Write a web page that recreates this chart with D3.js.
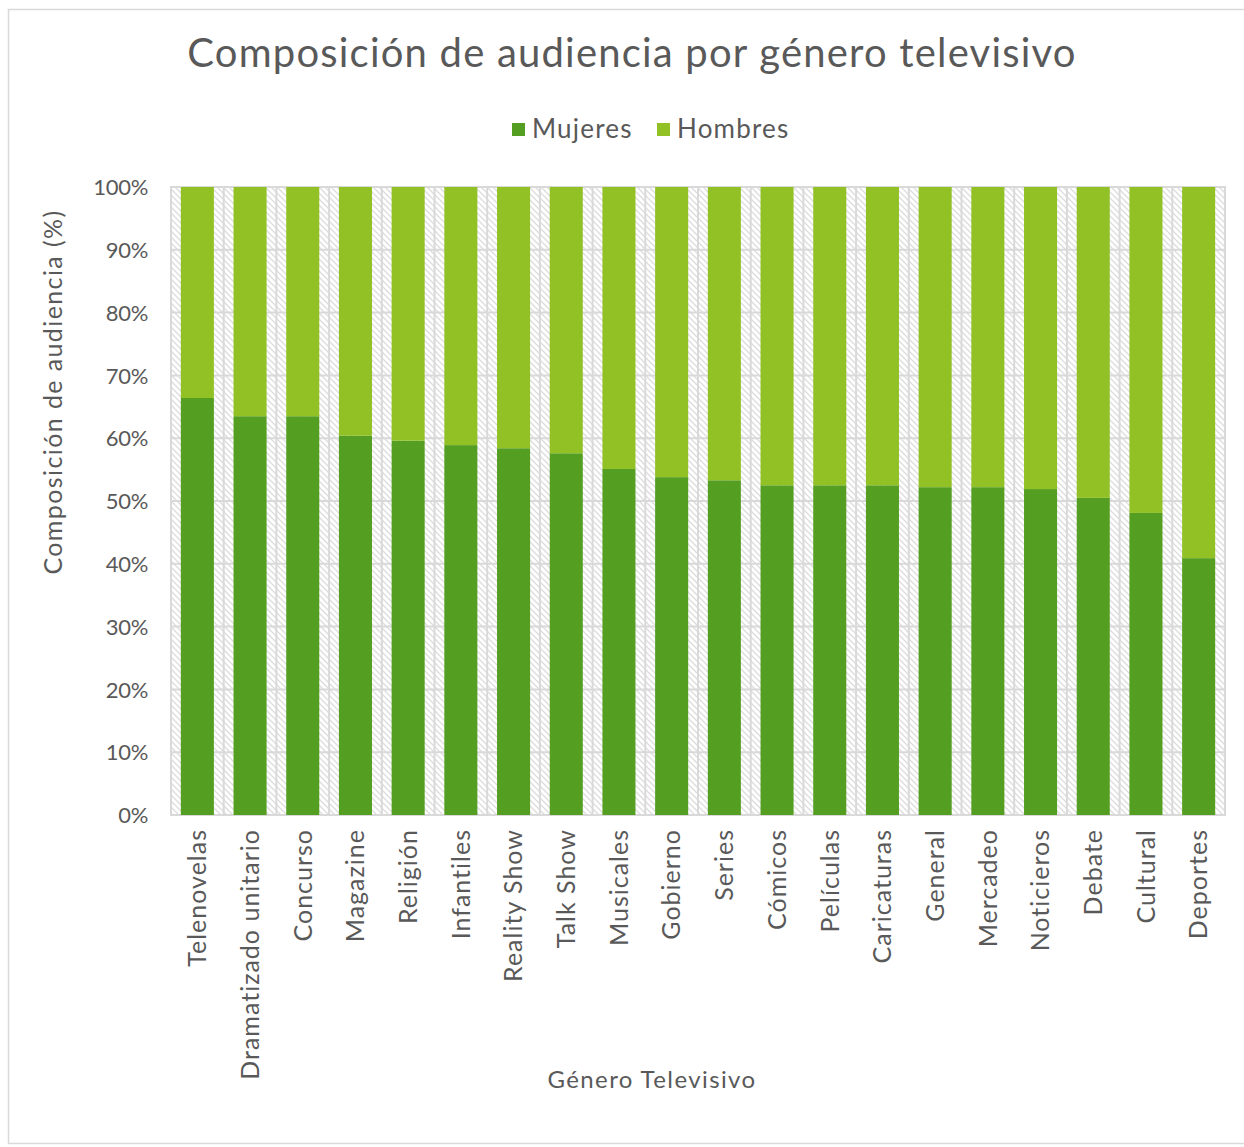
<!DOCTYPE html>
<html>
<head>
<meta charset="utf-8">
<script src="https://cdn.jsdelivr.net/npm/d3@7"></script>
<style>
  body { margin: 0; background: #fff; }
  svg text { font-family: Lato, "Open Sans", sans-serif; fill: #595959; }
</style>
</head>
<body>
<svg id="chart" width="1244" height="1147"></svg>
<script>
var categories = ['Telenovelas', 'Dramatizado unitario', 'Concurso', 'Magazine', 'Religión', 'Infantiles',
  'Reality Show', 'Talk Show', 'Musicales', 'Gobierno', 'Series', 'Cómicos', 'Películas', 'Caricaturas',
  'General', 'Mercadeo', 'Noticieros', 'Debate', 'Cultural', 'Deportes'];
var mujeres = [66.4, 63.5, 63.5, 60.4, 59.6, 58.9, 58.4, 57.6, 55.1, 53.8, 53.3, 52.5, 52.5, 52.5, 52.2, 52.2, 51.9, 50.5, 48.1, 40.9];
var hombres = [33.6, 36.5, 36.5, 39.6, 40.4, 41.1, 41.6, 42.4, 44.9, 46.2, 46.7, 47.5, 47.5, 47.5, 47.8, 47.8, 48.1, 49.5, 51.9, 59.1];
var seriesNames = ['Mujeres', 'Hombres'];
var yTicks = [0, 10, 20, 30, 40, 50, 60, 70, 80, 90, 100];

(function() {
  var svg = d3.select('#chart');
  var colors = { Mujeres: '#549e21', Hombres: '#92c126' };
  var grid = '#d9d9d9';

  var left = 171, right = 1225, top = 187, bottom = 815;

  // outer chart border
  svg.append('rect')
    .attr('x', 8.5).attr('y', 9.5)
    .attr('width', 1240).attr('height', 1134)
    .attr('fill', '#fff')
    .attr('stroke', grid).attr('stroke-width', 1.5);

  // hatch pattern for plot background
  var defs = svg.append('defs');
  var pat = defs.append('pattern')
    .attr('id', 'hatch')
    .attr('patternUnits', 'userSpaceOnUse')
    .attr('width', 6).attr('height', 6);
  pat.append('rect').attr('width', 6).attr('height', 6).attr('fill', '#fff');
  pat.append('path')
    .attr('d', 'M0,0 L6,6 M-1,5 L1,7 M5,-1 L7,1')
    .attr('stroke', '#dcdcdc').attr('stroke-width', 1.3);

  var x = d3.scaleBand()
    .domain(categories)
    .range([left, right])
    .paddingInner(0.373)
    .paddingOuter(0.1865);

  var y = d3.scaleLinear().domain([0, 100]).range([bottom, top]);

  svg.append('rect')
    .attr('x', left).attr('y', top)
    .attr('width', right - left).attr('height', bottom - top)
    .attr('fill', 'url(#hatch)');

  // horizontal gridlines
  svg.append('g').selectAll('line')
    .data(yTicks)
    .enter().append('line')
      .attr('x1', left).attr('x2', right)
      .attr('y1', function(d) { return y(d); })
      .attr('y2', function(d) { return y(d); })
      .attr('stroke', grid).attr('stroke-width', 2);

  // vertical gridlines at category boundaries
  var half = x.step() * x.paddingInner() / 2;
  svg.append('g').selectAll('line')
    .data(categories)
    .enter().append('line')
      .attr('x1', function(d) { return x(d) - half; })
      .attr('x2', function(d) { return x(d) - half; })
      .attr('y1', top).attr('y2', bottom)
      .attr('stroke', grid).attr('stroke-width', 2);

  svg.append('rect')
    .attr('x', left).attr('y', top)
    .attr('width', right - left).attr('height', bottom - top)
    .attr('fill', 'none')
    .attr('stroke', grid).attr('stroke-width', 2);

  // stacked bars
  var rows = categories.map(function(c, i) {
    return { cat: c, Mujeres: mujeres[i], Hombres: hombres[i] };
  });
  var stacked = d3.stack().keys(seriesNames)(rows);

  svg.append('g').selectAll('g')
    .data(stacked)
    .enter().append('g')
      .attr('fill', function(d) { return colors[d.key]; })
    .selectAll('rect')
    .data(function(d) { return d; })
    .enter().append('rect')
      .attr('x', function(d) { return x(d.data.cat); })
      .attr('width', x.bandwidth())
      .attr('y', function(d) { return y(d[1]); })
      .attr('height', function(d) { return y(d[0]) - y(d[1]); });

  // y axis labels
  var yAxis = d3.axisLeft(y)
    .tickValues(yTicks)
    .tickFormat(function(d) { return d + '%'; })
    .tickSize(0)
    .tickPadding(23);
  var yg = svg.append('g').attr('transform', 'translate(' + left + ',0)').call(yAxis);
  yg.select('.domain').remove();
  yg.selectAll('text')
    .style('font-size', '22px')
    .attr('dy', '0.35em')
    .style('letter-spacing', '-0.3px');

  // x axis labels
  var xAxis = d3.axisBottom(x).tickSize(0).tickPadding(0);
  var xg = svg.append('g').attr('transform', 'translate(0,' + bottom + ')').call(xAxis);
  xg.select('.domain').remove();
  xg.selectAll('text')
    .style('font-size', '25px')
    .style('letter-spacing', '1px')
    .attr('text-anchor', 'end')
    .attr('transform', 'translate(0,14) rotate(-90)')
    .attr('x', 0).attr('y', 0)
    .attr('dy', '0.35em');

  // title
  svg.append('text')
    .attr('x', 632).attr('y', 67)
    .attr('text-anchor', 'middle')
    .style('font-size', '40px')
    .style('letter-spacing', '1.2px')
    .text('Composición de audiencia por género televisivo');

  // legend
  var legend = svg.append('g');
  var lx = [512, 657];
  seriesNames.forEach(function(name, i) {
    legend.append('rect')
      .attr('x', lx[i]).attr('y', 123)
      .attr('width', 13).attr('height', 13)
      .attr('fill', colors[name]);
    legend.append('text')
      .attr('x', lx[i] + 20).attr('y', 138)
      .style('font-size', '26px')
      .style('letter-spacing', '1.2px')
      .text(name);
  });

  // axis titles
  svg.append('text')
    .attr('transform', 'translate(62,392) rotate(-90)')
    .attr('text-anchor', 'middle')
    .style('font-size', '25px')
    .style('letter-spacing', '1.4px')
    .text('Composición de audiencia (%)');

  svg.append('text')
    .attr('x', 652).attr('y', 1088)
    .attr('text-anchor', 'middle')
    .style('font-size', '24px')
    .style('letter-spacing', '1.4px')
    .text('Género Televisivo');
})();
</script>
</body>
</html>
